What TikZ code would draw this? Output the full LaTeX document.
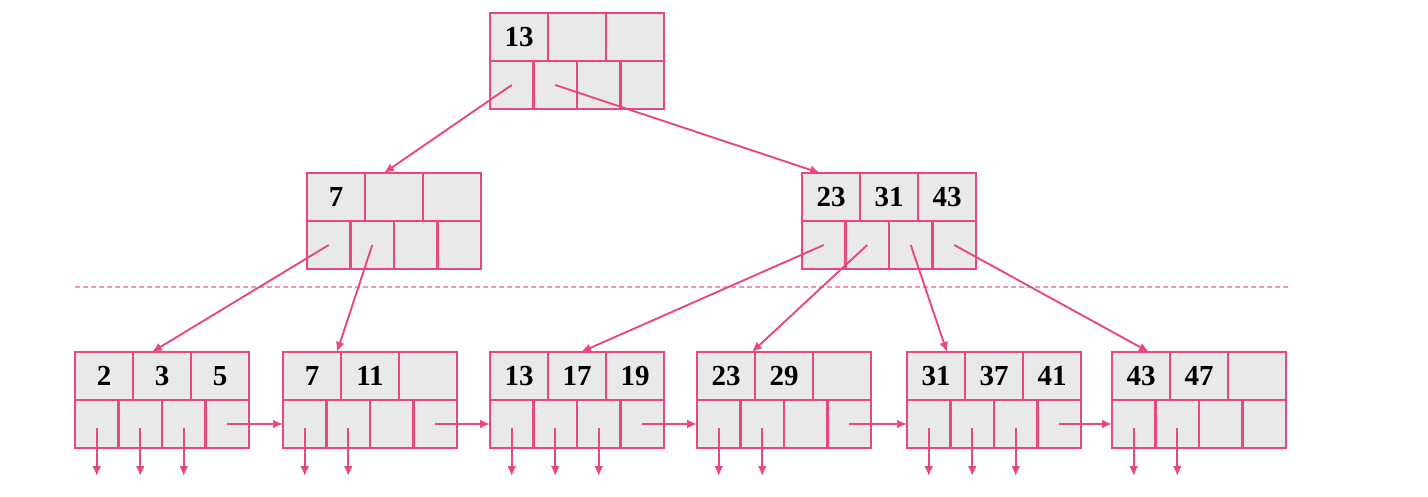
\documentclass[tikz,border=0pt]{standalone}
\usepackage{fontspec}
\setmainfont{Liberation Serif}
\usepackage{tikz}
\usetikzlibrary{arrows.meta}
\definecolor{bpink}{RGB}{232,72,122}
\definecolor{bdash}{RGB}{242,150,182}
\definecolor{bgray}{RGB}{233,233,235}
\begin{document}
\begin{tikzpicture}[x=1pt, y=-1pt,
		keycell/.style={draw=bpink, fill=bgray, line width=2.3pt, outer sep=0pt, inner sep=0pt, minimum width=58pt, minimum height=48pt, font=\fontsize{29}{30}\selectfont\bfseries},
		ptrcell/.style={draw=bpink, fill=bgray, line width=2.3pt, outer sep=0pt, inner sep=0pt, minimum width=43.5pt, minimum height=48pt},
		link/.style={draw=bpink, line width=1.9pt, -{Latex[length=10pt, width=9pt]}}]
		\useasboundingbox (0,0) rectangle (1428,496);
		\draw[bdash, line width=2.6pt, dash pattern=on 4.5pt off 3.5pt] (75,287) -- (1290,287);
		\foreach \tn/\tx/\ty/\tkeys in {R/490/13/{13,{},{}}, M1/307/173/{7,{},{}}, M2/802/173/{23,31,43},
			L1/75/352/{2,3,5}, L2/283/352/{7,11,{}}, L3/490/352/{13,17,19},
			L4/697/352/{23,29,{}}, L5/907/352/{31,37,41}, L6/1112/352/{43,47,{}}} {
			\begin{scope}[shift={(\tx,\ty)}]
				\foreach[count=\j] \kj in \tkeys {
					\node[keycell] (\tn-k\j) at ({(\j-0.5)*58},24) {\kj};
				}
				\foreach \j in {1,...,4} {
					\node[ptrcell] (\tn-p\j) at ({(\j-0.5)*43.5},72) {};
				}
			\end{scope}
		}
		\draw[link] (R-p1.center) -- ([xshift=19pt]M1-k2.north west);
		\draw[link] (R-p2.center) -- ([xshift=18pt]M2-k1.north west);
		\draw[link] (M1-p1.center) -- ([xshift=19pt]L1-k2.north west);
		\draw[link] (M1-p2.center) -- ([xshift=-4pt]L2-k2.north west);
		\draw[link] (M2-p1.center) -- ([xshift=4pt]L3-k2.north);
		\draw[link] (M2-p2.center) -- ([xshift=-3pt]L4-k2.north west);
		\draw[link] (M2-p3.center) -- ([xshift=-18pt]L5-k1.north east);
		\draw[link] (M2-p4.center) -- ([xshift=-21pt]L6-k1.north east);
		\foreach \la/\lb in {L1/L2, L2/L3, L3/L4, L4/L5, L5/L6} {
			\draw[link] (\la-p4.center) -- (\lb-p1.west);
		}
		\foreach \tn/\nk in {L1/3, L2/2, L3/3, L4/2, L5/3, L6/2} {
			\foreach \j in {1,...,\nk} {
				\coordinate (\tn-d\j) at ([yshift=-52pt]\tn-p\j.center);
				\draw[link] ([yshift=-4pt]\tn-p\j.center) -- (\tn-d\j);
			}
		}
	\end{tikzpicture}
\end{document}
